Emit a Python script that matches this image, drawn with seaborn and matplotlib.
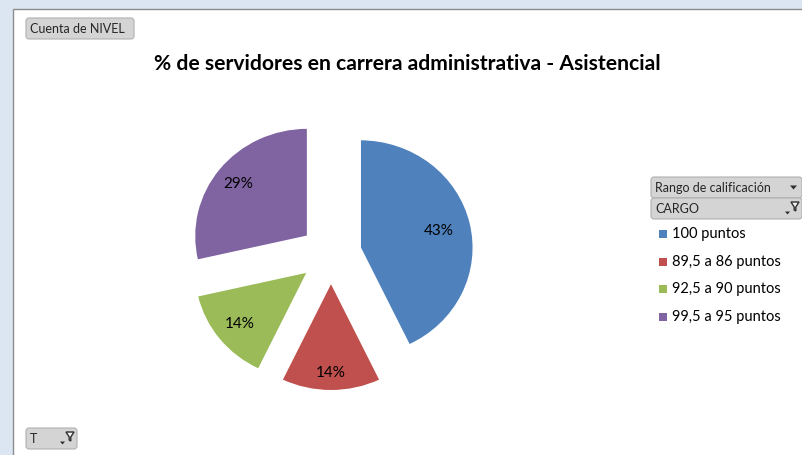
import matplotlib
matplotlib.use("Agg")
import numpy as np
import matplotlib.pyplot as plt
import seaborn as sns
from matplotlib.patches import FancyBboxPatch, Rectangle, Polygon

# ---- data ----
categories = ["100 puntos", "89,5 a 86 puntos", "92,5 a 90 puntos", "99,5 a 95 puntos"]
counts = [3, 1, 1, 2]
colors = ["#4F81BD", "#C0504D", "#9BBB59", "#8064A2"]
title = "% de servidores en carrera administrativa - Asistencial"

sns.set_theme(style="white")
plt.rcParams["font.family"] = ["Lato", "DejaVu Sans"]
palette = sns.color_palette(colors)

W, H = 802, 455
fig = plt.figure(figsize=(W / 100, H / 100), dpi=100)
fig.patch.set_facecolor("#DCE6F2")

# background / decoration axes in pixel coords (y down)
bg = fig.add_axes([0, 0, 1, 1])
bg.set_xlim(0, W)
bg.set_ylim(H, 0)
bg.axis("off")
bg.add_patch(Rectangle((12.5, 8.5), W, H, facecolor="white", edgecolor="#8C8C8C", lw=1.0))

def button(x, y, w, h, text, arrow=False, funnel=False, fs=9):
    bg.add_patch(FancyBboxPatch((x + 2, y + 2), w - 4, h - 4,
                                boxstyle="round,pad=2,rounding_size=3",
                                facecolor="#D4D4D4", edgecolor="#B0B0B0", lw=0.8))
    bg.text(x + 4, y + h / 2 + 0.5, text, fontsize=fs, color="#262626",
            ha="left", va="center")
    if arrow:
        bg.add_patch(Polygon([(x + w - 12, y + h / 2 - 2), (x + w - 5, y + h / 2 - 2),
                              (x + w - 8.5, y + h / 2 + 2)], closed=True,
                             facecolor="#303030", edgecolor="none"))
    if funnel:
        cx = x + w - 7
        bg.add_patch(Polygon([(cx - 4, y + 4), (cx + 4, y + 4), (cx + 0.8, y + 9),
                              (cx + 0.8, y + 13), (cx - 0.8, y + 12), (cx - 0.8, y + 9)],
                             closed=True, facecolor="#F4F4F4", edgecolor="#303030", lw=1.0))
        bg.add_patch(Polygon([(cx - 10, y + h / 2 + 3), (cx - 5, y + h / 2 + 3),
                              (cx - 7.5, y + h / 2 + 6)], closed=True,
                             facecolor="#303030", edgecolor="none"))

button(26, 18, 108, 21, "Cuenta de NIVEL")
button(651, 177, 151, 21, "Rango de calificación", arrow=True)
button(651, 198, 151, 21, "CARGO", funnel=True)
button(26, 428, 51, 21, "T", funnel=True)

bg.text(407, 64, title, fontsize=15.2, fontweight="bold", color="black",
        ha="center", va="center")

# legend
leg_y = [234, 262, 289, 317]
for c, lab, yy in zip(palette, categories, leg_y):
    bg.add_patch(Rectangle((659, yy - 4), 8, 8, facecolor=c, edgecolor="none"))
    bg.text(672, yy, lab, fontsize=10.5, color="black", ha="left", va="center")

# pie axes
s = 113 / 108.0
ax = fig.add_axes([0, 0, 1, 1])
ax.patch.set_alpha(0)
cx, cy = 331, (H - 254) * s
wedges, texts, autotexts = ax.pie(
    counts, colors=palette, startangle=90, counterclock=False,
    explode=[30] * len(counts), radius=113, center=(cx, cy),
    autopct=lambda p: f"{p:.0f}%", pctdistance=0.78,
    textprops=dict(fontsize=11, color="black"))

# fine-tune label distance per wedge (Excel places them slightly differently)
label_frac = [0.71, 0.84, 0.77, 0.78]
for w, t, f in zip(wedges, autotexts, label_frac):
    th = np.deg2rad(0.5 * (w.theta1 + w.theta2))
    t.set_position((w.center[0] + f * w.r * np.cos(th),
                    w.center[1] + f * w.r * np.sin(th)))

ax.set_xlim(0, W)
ax.set_ylim(0, H * s)
ax.set_aspect("auto")
ax.axis("off")

fig.savefig("out.png", dpi=100, facecolor=fig.get_facecolor())
